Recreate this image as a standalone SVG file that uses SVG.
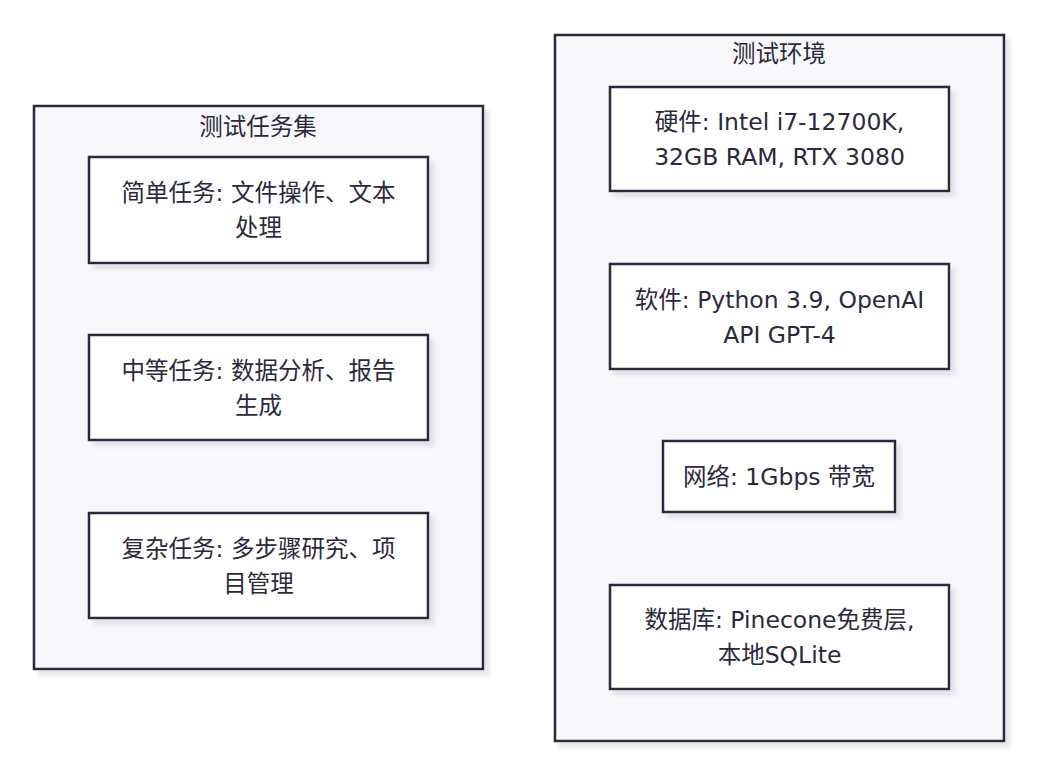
<svg xmlns="http://www.w3.org/2000/svg" width="1050" height="768" viewBox="0 0 1050 768">
<defs>
<filter id="sh" x="-10%" y="-10%" width="130%" height="130%">
<feDropShadow dx="5" dy="5" stdDeviation="2" flood-color="#c8c8d4" flood-opacity="0.5"/>
</filter>
<style>
.cl{fill:#f8f8fb;stroke:#2b2a3c;stroke-width:2.5;filter:url(#sh)}
.nd{fill:#ffffff;stroke:#2b2a3c;stroke-width:2.5;filter:url(#sh)}
text{font-family:"DejaVu Sans","Noto Sans CJK SC",sans-serif;font-size:23.5px;fill:#2b2a3c;text-anchor:middle;dominant-baseline:central}
</style>
</defs>
<rect width="1050" height="768" fill="#ffffff"/>
<g id="cluster-tasks">
<rect class="cl" x="34" y="106" width="449" height="563"/>
<text x="258" y="127">测试任务集</text>
</g>
<g id="cluster-env">
<rect class="cl" x="555" y="35" width="449" height="706"/>
<text x="779" y="54">测试环境</text>
</g>
<g id="node-simple">
<rect class="nd" x="89" y="157" width="339" height="106"/>
<text x="258.5" y="193">简单任务: 文件操作、文本</text>
<text x="258.5" y="228">处理</text>
</g>
<g id="node-medium">
<rect class="nd" x="89" y="335" width="339" height="105"/>
<text x="258.5" y="371">中等任务: 数据分析、报告</text>
<text x="258.5" y="406">生成</text>
</g>
<g id="node-complex">
<rect class="nd" x="89" y="513" width="339" height="105"/>
<text x="258.5" y="549">复杂任务: 多步骤研究、项</text>
<text x="258.5" y="584">目管理</text>
</g>
<g id="node-hw">
<rect class="nd" x="610" y="87" width="339" height="104"/>
<text x="779.5" y="122">硬件: Intel i7-12700K,</text>
<text x="779.5" y="157">32GB RAM, RTX 3080</text>
</g>
<g id="node-sw">
<rect class="nd" x="610" y="264" width="339" height="105"/>
<text x="779.5" y="300">软件: Python 3.9, OpenAI</text>
<text x="779.5" y="335">API GPT-4</text>
</g>
<g id="node-net">
<rect class="nd" x="663" y="441" width="232" height="71"/>
<text x="779" y="477">网络: 1Gbps 带宽</text>
</g>
<g id="node-db">
<rect class="nd" x="610" y="585" width="339" height="104"/>
<text x="779.5" y="620">数据库: Pinecone免费层,</text>
<text x="779.5" y="655">本地SQLite</text>
</g>
<g id="connectors"/>
</svg>
